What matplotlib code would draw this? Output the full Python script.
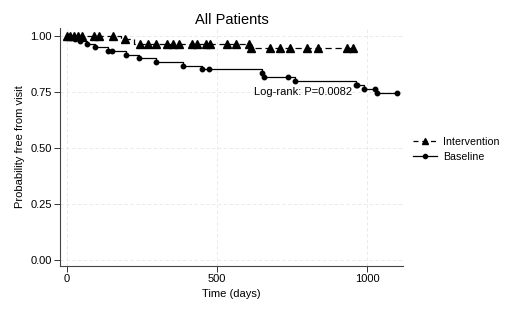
import numpy as np
import matplotlib
matplotlib.use('Agg')
import matplotlib.pyplot as plt

plt.rcParams['font.family'] = ['Liberation Sans', 'DejaVu Sans']

# Kaplan-Meier steps (time in days, survival after event)
base_t = [0, 27, 45, 67, 92, 137, 197, 240, 297, 387, 450, 650, 657, 760, 963, 990, 1033, 1100]
base_s = [1.0, 0.987, 0.978, 0.965, 0.950, 0.932, 0.915, 0.900, 0.883, 0.865, 0.851,
          0.833, 0.815, 0.798, 0.780, 0.763, 0.745, 0.745]
base_marks = [27, 45, 67, 92, 137, 150, 197, 240, 297, 387, 450, 473, 650, 657, 737,
              760, 963, 967, 990, 1027, 1033, 1100]

int_t = [0, 180, 222, 607, 958]
int_s = [1.0, 0.985, 0.965, 0.946, 0.946]
int_marks = [0, 10, 23, 37, 50, 90, 107, 153, 193, 243, 270, 297, 333, 353, 373, 417,
             433, 463, 477, 533, 563, 605, 612, 677, 710, 743, 800, 837, 933, 953]

y_ticks = [0.0, 0.25, 0.5, 0.75, 1.0]
x_ticks = [0, 500, 1000]


def step_val(t, times, surv):
    idx = np.searchsorted(times, t, side='right') - 1
    return np.array(surv)[idx]


fig = plt.figure(figsize=(5.2, 3.12), dpi=100)
ax = fig.add_axes([0.1154, 0.147, 0.66, 0.763])

# intervention
ax.step(int_t, int_s, where='post', color='black', lw=0.9, linestyle=(0, (5, 3)))
ax.plot(int_marks, step_val(int_marks, int_t, int_s), linestyle='none',
        marker='^', color='black', markersize=5.8)
# baseline
ax.step(base_t, base_s, where='post', color='black', lw=0.9)
ax.plot(base_marks, step_val(base_marks, base_t, base_s), linestyle='none',
        marker='o', color='black', markersize=3.2)

# legend proxies
ax.plot([], [], color='black', lw=0.9, linestyle=(0, (4, 3)), marker='^',
        markersize=5, label='Intervention')
ax.plot([], [], color='black', lw=0.9, marker='o', markersize=3, label='Baseline')
handles, labels = ax.get_legend_handles_labels()
ax.legend(handles, labels, loc='center left', bbox_to_anchor=(1.0, 0.49),
          frameon=False, fontsize=7.7, handlelength=2.3, handletextpad=0.5,
          labelspacing=0.45)

ax.text(623, 0.748, 'Log-rank: P=0.0082', fontsize=8, va='center', ha='left')

ax.set_xlim(-23, 1120)
ax.set_ylim(-0.027, 1.035)
ax.set_xticks(x_ticks)
ax.set_yticks(y_ticks)
ax.set_yticklabels(['%.2f' % v for v in y_ticks])
ax.tick_params(labelsize=8, length=4, width=0.7, color='#333333', pad=2)
ax.grid(True, color='#e6e6e6', lw=0.6, linestyle=(0, (4, 3)))
ax.set_axisbelow(True)
for s in ['top', 'right']:
    ax.spines[s].set_visible(False)
for s in ['left', 'bottom']:
    ax.spines[s].set_linewidth(0.8)
    ax.spines[s].set_color('#444444')

ax.set_xlabel('Time (days)', fontsize=8, labelpad=3)
ax.set_ylabel('Probability free from visit', fontsize=8, labelpad=4)
ax.set_title('All Patients', fontsize=10.5, pad=3)

fig.savefig('out.png', dpi=100)
